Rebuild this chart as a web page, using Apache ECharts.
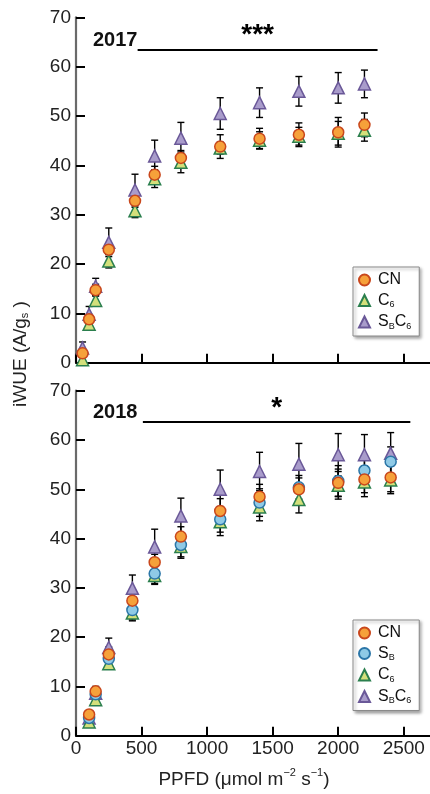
<!DOCTYPE html>
<html>
<head>
<meta charset="utf-8">
<script src="https://cdn.jsdelivr.net/npm/echarts@6/dist/echarts.min.js"></script>
<style>
  html, body { margin: 0; padding: 0; background: #fff; }
  #main { width: 430px; height: 794px; }
</style>
</head>
<body>
<div id="main"></div>
<script>
// PPFD levels
const ppfd2017 = [50, 100, 150, 250, 450, 600, 800, 1100, 1400, 1700, 2000, 2200];
const ppfd2018 = [100, 150, 250, 430, 600, 800, 1100, 1400, 1700, 2000, 2200, 2400];

// 2017 means and errors
const cn2017 = [1.9, 8.8, 14.7, 22.9, 32.8, 38.1, 41.5, 43.8, 45.4, 46.2, 46.7, 48.2];
const cn2017Err = [0.8, 1.0, 1.2, 1.0, 1.3, 1.7, 1.5, 2.4, 2.1, 2.4, 3.0, 2.4];
const c62017 = [0.6, 7.8, 12.6, 20.6, 30.8, 37.3, 40.6, 43.5, 45.1, 45.9, 46.5, 47.1];
const c62017Err = [0.6, 0.8, 1.0, 1.4, 1.4, 1.8, 2.1, 1.2, 1.7, 1.8, 2.4, 2.2];
const sbc62017 = [3.0, 9.8, 15.5, 24.4, 35.0, 41.9, 45.5, 50.5, 52.7, 55.0, 55.7, 56.5];
const sbc62017Err = [1.2, 1.6, 1.6, 2.9, 3.2, 3.2, 3.2, 3.2, 3.0, 3.0, 3.1, 2.8];

// 2018 means and errors
const cn2018 = [4.3, 9.0, 16.5, 27.4, 35.2, 40.4, 45.6, 48.5, 50.0, 51.3, 52.0, 52.4];
const cn2018Err = [0.6, 1.0, 1.5, 1.6, 1.6, 2.0, 2.5, 2.5, 2.3, 2.8, 2.7, 2.9];
const sb2018 = [3.6, 8.4, 15.6, 25.5, 32.9, 38.7, 43.9, 47.3, 50.4, 51.7, 53.8, 55.6];
const sb2018Err = [0.6, 1.0, 1.8, 2.0, 2.0, 2.4, 2.6, 2.8, 2.4, 3.1, 3.0, 3.0];
const c62018 = [2.8, 7.3, 14.6, 24.9, 32.5, 38.4, 43.4, 46.4, 47.9, 50.8, 51.5, 51.9];
const c62018Err = [0.6, 1.0, 1.1, 1.6, 1.8, 2.4, 2.8, 2.8, 2.7, 2.8, 3.0, 2.8];
const sbc62018 = [3.6, 8.6, 17.9, 29.9, 38.3, 44.6, 50.0, 53.6, 55.1, 57.0, 57.0, 57.3];
const sbc62018Err = [0.8, 1.2, 1.9, 2.7, 3.6, 3.6, 3.9, 3.9, 4.2, 4.3, 4.1, 4.2];

// significance bars [x start, x end, y, label]
const sig2017 = [470, 2300, 63.5, '***'];
const sig2018 = [510, 2550, 63.6, '*'];

const yTicks = [0, 10, 20, 30, 40, 50, 60, 70];
const xTicks = [0, 500, 1000, 1500, 2000, 2500];

const FONT = 'Liberation Sans, Arial, sans-serif';
const styles = {
  CN:   { symbol: 'circle',   size: 11, fill: '#F6A13A', border: '#C9471C' },
  SB:   { symbol: 'circle',   size: 11, fill: '#8FCAE6', border: '#2B76A8' },
  C6:   { symbol: 'triangle', size: 12, fill: '#D3E07B', border: '#2B7F4E' },
  SBC6: { symbol: 'triangle', size: 12, fill: '#A99CCB', border: '#6A5898' }
};
const legendText = {
  CN: '{g|}{n|CN}',
  SB: '{g|}{n|S}{s|B}',
  C6: '{g|}{n|C}{s|6}',
  SBC6: '{g|}{n|S}{s|B}{n|C}{s|6}'
};

function errRender(params, api) {
  const x = api.value(0);
  const top = api.coord([x, api.value(2)]);
  const bot = api.coord([x, api.value(1)]);
  const w = 3.5;
  const st = { stroke: '#000', lineWidth: 1.4 };
  return {
    type: 'group',
    children: [
      { type: 'line', shape: { x1: top[0], y1: top[1], x2: bot[0], y2: bot[1] }, style: st },
      { type: 'line', shape: { x1: top[0] - w, y1: top[1], x2: top[0] + w, y2: top[1] }, style: st },
      { type: 'line', shape: { x1: bot[0] - w, y1: bot[1], x2: bot[0] + w, y2: bot[1] }, style: st }
    ]
  };
}

function makeSeries(name, xs, ys, errs, idx, z, sig) {
  const s = styles[name];
  const out = [
    {
      type: 'custom',
      name: name + '-err',
      xAxisIndex: idx, yAxisIndex: idx,
      renderItem: errRender,
      encode: { x: 0, y: [1, 2] },
      data: xs.map((x, i) => [x, ys[i] - errs[i], ys[i] + errs[i]]),
      z: 1,
      silent: true
    },
    {
      type: 'scatter',
      name: name,
      xAxisIndex: idx, yAxisIndex: idx,
      symbol: s.symbol,
      symbolSize: s.size,
      itemStyle: { color: s.fill, borderColor: s.border, borderWidth: 1.5, opacity: 1 },
      data: xs.map((x, i) => [x, ys[i]]),
      z: z
    }
  ];
  if (sig) {
    out[1].markLine = {
      silent: true,
      symbol: 'none',
      lineStyle: { color: '#000', width: 2.2, type: 'solid' },
      label: {
        show: true, position: 'middle', formatter: sig[3], distance: 0,
        fontSize: 28, fontWeight: 'bold', color: '#000', fontFamily: FONT
      },
      data: [[{ coord: [sig[0], sig[2]] }, { coord: [sig[1], sig[2]] }]]
    };
  }
  return out;
}

function xAxisCfg(idx, showLabels) {
  const ax = {
    type: 'value', gridIndex: idx, min: 0, max: 2700, interval: 500,
    axisLine: { show: true, onZero: false, lineStyle: { color: '#000', width: 2 } },
    axisTick: { show: true, inside: true, length: 9, customValues: xTicks, lineStyle: { color: '#000', width: 2 } },
    axisLabel: {
      show: showLabels, customValues: xTicks, fontSize: 19, color: '#222', margin: 4, fontFamily: FONT,
      formatter: v => String(v)
    },
    splitLine: { show: false }
  };
  if (showLabels) {
    ax.name = '{a|PPFD (μmol m}{p|−2}{a| s}{p|−1}{a|)}';
    ax.nameLocation = 'middle';
    ax.nameGap = 32;
    ax.nameTextStyle = {
      padding: [0, 18, 0, 0],
      rich: {
        a: { fontSize: 19, color: '#222', fontFamily: FONT, lineHeight: 22, verticalAlign: 'bottom' },
        p: { fontSize: 11, color: '#222', fontFamily: FONT, lineHeight: 22, verticalAlign: 'top' }
      }
    };
  }
  return ax;
}

function yAxisCfg(idx) {
  return {
    type: 'value', gridIndex: idx, min: 0, max: 70, interval: 10,
    axisLine: { show: true, onZero: false, lineStyle: { color: '#6a6a6a', width: 2.2 } },
    axisTick: { show: true, inside: true, length: 9, customValues: yTicks, lineStyle: { color: '#000', width: 2 } },
    axisLabel: { fontSize: 19, color: '#222', margin: 5, fontFamily: FONT, customValues: yTicks, formatter: v => String(v) },
    splitLine: { show: false }
  };
}

function legendCfg(top, names) {
  return {
    orient: 'vertical',
    left: 353, top: top,
    data: names,
    itemWidth: 11, itemHeight: 11, itemGap: 4.5,
    padding: [5, 8, 5, 5],
    backgroundColor: '#fff',
    borderColor: '#8a8a8a', borderWidth: 1,
    shadowColor: 'rgba(0,0,0,0.35)', shadowBlur: 3, shadowOffsetX: 2, shadowOffsetY: 2,
    selectedMode: false,
    formatter: n => legendText[n],
    textStyle: {
      rich: {
        g: { width: 3 },
        n: { fontSize: 16, color: '#111', fontFamily: FONT, lineHeight: 18, verticalAlign: 'middle' },
        s: { fontSize: 9, color: '#111', fontFamily: FONT, lineHeight: 18, verticalAlign: 'bottom', padding: [6, 0, 0, 0] }
      }
    }
  };
}

const chart = echarts.init(document.getElementById('main'));
const option = {
  animation: false,
  backgroundColor: '#fff',
  grid: [
    { left: 76, top: 17.3, width: 354, height: 345.4 },
    { left: 76, top: 390.7, width: 354, height: 345 }
  ],
  xAxis: [xAxisCfg(0, false), xAxisCfg(1, true)],
  yAxis: [yAxisCfg(0), yAxisCfg(1)],
  legend: [
    legendCfg(267, ['CN', 'C6', 'SBC6']),
    legendCfg(620, ['CN', 'SB', 'C6', 'SBC6'])
  ],
  title: [
    { text: '2017', left: 88, top: 25, textStyle: { fontSize: 20, fontWeight: 'bold', color: '#111', fontFamily: FONT } },
    { text: '2018', left: 88, top: 397, textStyle: { fontSize: 20, fontWeight: 'bold', color: '#111', fontFamily: FONT } }
  ],
  graphic: [
    {
      type: 'text', x: 8, y: 354, rotation: Math.PI / 2,
      style: {
        text: '{a|iWUE (A/g}{s|s}{a| )}',
        align: 'center', verticalAlign: 'top',
        rich: {
          a: { fontSize: 19, fill: '#222', fontFamily: FONT, lineHeight: 22, verticalAlign: 'bottom' },
          s: { fontSize: 11, fill: '#222', fontFamily: FONT, lineHeight: 22, verticalAlign: 'bottom' }
        }
      }
    }
  ],
  series: [
    ...makeSeries('SBC6', ppfd2017, sbc62017, sbc62017Err, 0, 2),
    ...makeSeries('C6', ppfd2017, c62017, c62017Err, 0, 3),
    ...makeSeries('CN', ppfd2017, cn2017, cn2017Err, 0, 4, sig2017),
    ...makeSeries('SBC6', ppfd2018, sbc62018, sbc62018Err, 1, 2),
    ...makeSeries('C6', ppfd2018, c62018, c62018Err, 1, 3),
    ...makeSeries('SB', ppfd2018, sb2018, sb2018Err, 1, 3),
    ...makeSeries('CN', ppfd2018, cn2018, cn2018Err, 1, 4, sig2018)
  ]
};
chart.setOption(option);
window.onresize = function () {
  chart.resize();
};
</script>
</body>
</html>
